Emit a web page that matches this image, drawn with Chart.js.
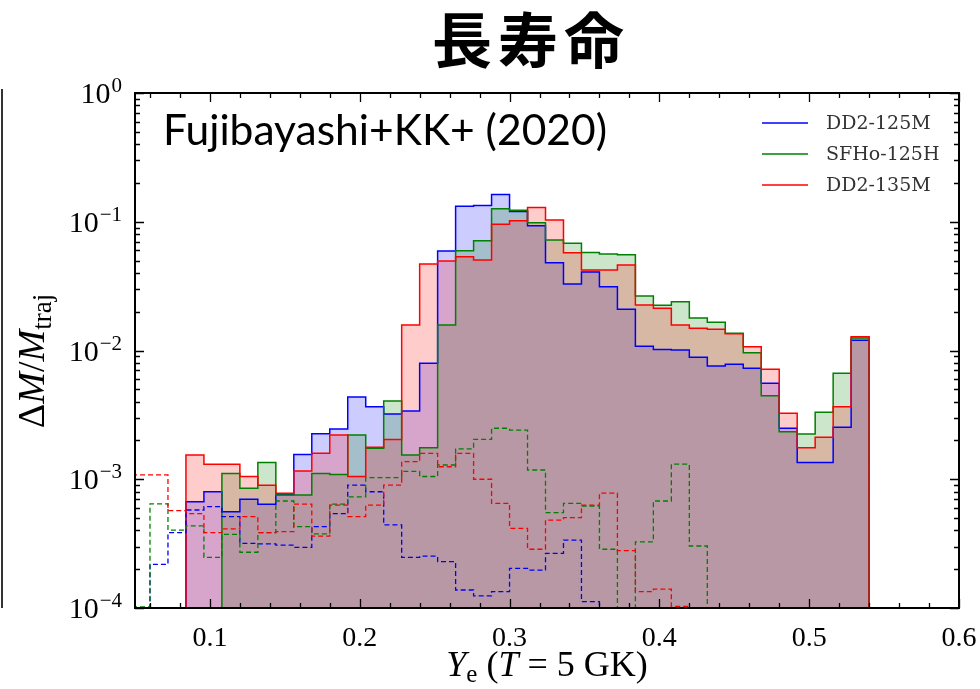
<!DOCTYPE html>
<html>
<head>
<meta charset="utf-8">
<script src="https://cdn.jsdelivr.net/npm/chart.js@4.4.0/dist/chart.umd.min.js"></script>
<style>
  html, body { margin: 0; padding: 0; background: #fff; }
  canvas { display: block; }
</style>
</head>
<body>
<canvas id="c" width="980" height="689"></canvas>
<script>
// Ye histograms at T = 5 GK, bin width 0.012 (bin k covers [k*BIN, (k+1)*BIN])
const BIN = 0.012;
const FLOOR = 1e-6;              // baseline the step outlines fall back to

const seriesNames = ['DD2-125M', 'SFHo-125H', 'DD2-135M'];
const seriesColors = ['#0000ff', '#008000', '#ff0000'];
const seriesFills = ['rgba(0,0,255,0.2)', 'rgba(0,128,0,0.2)', 'rgba(255,0,0,0.2)'];

// total ejecta (solid, filled)
const dd2_125M_start = 7;
const dd2_125M = [6.7e-4, 8.0e-4, 5.6e-4, 7.0e-4, 6.4e-4, 7.6e-4, 1.56e-3, 2.26e-3, 2.46e-3, 4.35e-3,
  3.66e-3, 3.21e-3, 3.39e-3, 7.95e-3, 0.0592, 0.132, 0.134, 0.163, 0.120, 0.0933,
  0.0481, 0.0329, 0.0408, 0.0313, 0.0209, 0.0108, 0.0102, 0.0101, 0.00886, 0.00758,
  0.00781, 0.00727, 0.00556, 0.00249, 0.00135, 0.00135, 0.00253, 0.0120];

const sfho_125H_start = 9;
const sfho_125H = [1.11e-3, 8.5e-4, 1.35e-3, 7.55e-4, 7.55e-4, 1.11e-3, 1.09e-3, 2.21e-3, 1.74e-3, 4.05e-3,
  1.54e-3, 1.76e-3, 0.0158, 0.0596, 0.0713, 0.126, 0.123, 0.0984, 0.0722, 0.068,
  0.0576, 0.0562, 0.0553, 0.0265, 0.0225, 0.0239, 0.0179, 0.0166, 0.0136, 0.0096,
  0.00446, 0.00234, 0.00225, 0.00331, 0.00665, 0.0125];

const dd2_135M_start = 7;
const dd2_135M = [1.54e-3, 1.31e-3, 1.31e-3, 1.05e-3, 9.0e-4, 7.8e-4, 1.16e-3, 1.59e-3, 2.21e-3, 1.05e-3,
  1.77e-3, 2.04e-3, 0.0158, 0.047, 0.0495, 0.0535, 0.0505, 0.0955, 0.102, 0.129,
  0.1034, 0.0575, 0.0422, 0.0422, 0.0461, 0.0226, 0.0213, 0.0158, 0.0149, 0.0146,
  0.0135, 0.0107, 0.00714, 0.00325, 0.00176, 0.00212, 0.00366, 0.0128];

// dashed outlines (no fill)
const dd2_125M_dash_start = 5;
const dd2_125M_dash = [2.18e-4, 3.85e-4, 5.77e-4, 6.13e-4, 5.12e-4, 3.18e-4, 3.15e-4, 3.08e-4, 2.96e-4, 4.28e-4,
  5.4e-4, 9.0e-4, 8.0e-4, 4.42e-4, 2.47e-4, 2.53e-4, 2.29e-4, 1.38e-4, 1.24e-4, 1.34e-4,
  2.03e-4, 1.97e-4, 2.66e-4, 3.37e-4, 1.12e-4];

const sfho_125H_dash_start = 4;
const sfho_125H_dash = [1.02e-4, 6.43e-4, 4.03e-4, 4.35e-4, 2.47e-4, 3.73e-4, 2.71e-4, 3.85e-4, 6.78e-4, 4.28e-4,
  3.76e-4, 6.4e-4, 7.3e-4, 1.03e-3, 1.03e-3, 1.15e-3, 1.05e-3, 1.29e-3, 1.72e-3, 2.04e-3,
  2.49e-3, 2.41e-3, 1.18e-3, 5.5e-4, 6.5e-4, 6.2e-4, 2.86e-4, 5e-5, 3.26e-4, 6.78e-4,
  1.31e-3, 3.03e-4];

const dd2_135M_dash_start = 4;
const dd2_135M_dash = [1.08e-3, 1.08e-3, 5.7e-4, 5.4e-4, 3.85e-4, 4.11e-4, 5.12e-4, 3.85e-4, 3.92e-4, 6.4e-4,
  3.62e-4, 6.3e-4, 5.12e-4, 6.3e-4, 9.0e-4, 1.37e-3, 1.59e-3, 1.25e-3, 1.59e-3, 1.0e-3,
  6.5e-4, 4.16e-4, 2.86e-4, 4.82e-4, 5.03e-4, 6.3e-4, 7.8e-4, 2.79e-4, 1.34e-4, 1.40e-4,
  1.03e-4];

const xTickValues = [0.1, 0.2, 0.3, 0.4, 0.5, 0.6];
const yTickValues = [1e-4, 1e-3, 1e-2, 1e-1, 1];
const yTickExponents = ['\u22124', '\u22123', '\u22122', '\u22121', '0'];

// step outline: rise from the floor at the first edge, hold each bin, fall at the last edge
function histPoints(start, values) {
  const pts = [{ x: start * BIN, y: FLOOR }];
  values.forEach((v, i) => pts.push({ x: (start + i) * BIN, y: v }));
  pts.push({ x: (start + values.length) * BIN, y: FLOOR });
  return pts;
}

function solid(i, start, values, order) {
  return {
    label: seriesNames[i], data: histPoints(start, values),
    borderColor: seriesColors[i], backgroundColor: seriesFills[i],
    borderWidth: 1.5, fill: 'start', stepped: true, order
  };
}
function dashed(i, start, values, order) {
  return {
    label: seriesNames[i] + ' (dashed)', data: histPoints(start, values),
    borderColor: seriesColors[i], backgroundColor: 'transparent',
    borderWidth: 1.3, borderDash: [5, 3], fill: false, stepped: true, order
  };
}

const SERIF = '"Liberation Serif", "DejaVu Serif", serif';

function drawRich(ctx, parts, x, y) {
  let w = 0;
  parts.forEach(p => { ctx.font = p.font; p.w = ctx.measureText(p.text).width; w += p.w; });
  let cx = x - w / 2;
  parts.forEach(p => { ctx.font = p.font; ctx.fillText(p.text, cx, y + (p.dy || 0)); cx += p.w; });
}

const decor = {
  id: 'decor',
  afterDraw(chart) {
    const { ctx, chartArea: a, scales } = chart;
    const xs = scales.x, ys = scales.y;
    ctx.save();
    ctx.fillStyle = '#000';
    ctx.strokeStyle = '#000';

    // inward ticks on all four sides
    ctx.lineWidth = 1.3;
    ctx.beginPath();
    for (let i = 3; i <= 30; i++) {
      const v = i * 0.02;
      const px = Math.round(xs.getPixelForValue(v)) + 0.5;
      const len = (i % 5 === 0) ? 9 : 5;
      ctx.moveTo(px, a.bottom); ctx.lineTo(px, a.bottom - len);
      ctx.moveTo(px, a.top); ctx.lineTo(px, a.top + len);
    }
    for (let e = -4; e <= 0; e++) {
      for (let m = 1; m <= 9; m++) {
        if (e === 0 && m > 1) break;
        const py = Math.round(ys.getPixelForValue(m * Math.pow(10, e))) + 0.5;
        const len = (m === 1) ? 9 : 5;
        ctx.moveTo(a.left, py); ctx.lineTo(a.left + len, py);
        ctx.moveTo(a.right, py); ctx.lineTo(a.right - len, py);
      }
    }
    ctx.stroke();

    // frame
    ctx.lineWidth = 2;
    ctx.strokeRect(a.left, a.top, a.right - a.left, a.bottom - a.top);

    // decade labels on the log axis, 10 with a raised exponent
    ctx.textAlign = 'right';
    ctx.textBaseline = 'alphabetic';
    yTickValues.forEach((v, i) => {
      const py = ys.getPixelForValue(v);
      const right = a.left - 13;
      ctx.font = '21px ' + SERIF;
      const ew = ctx.measureText(yTickExponents[i]).width;
      ctx.fillText(yTickExponents[i], right, py - 1);
      ctx.font = '30px ' + SERIF;
      ctx.fillText('10', right - ew - 1, py + 10);
    });

    // legend
    ctx.textBaseline = 'middle';
    ctx.textAlign = 'left';
    ctx.font = '19px "DejaVu Serif", serif';
    const rows = [123, 154, 185];
    seriesNames.forEach((name, i) => {
      ctx.strokeStyle = seriesColors[i];
      ctx.lineWidth = 1.5;
      ctx.beginPath(); ctx.moveTo(762, rows[i]); ctx.lineTo(808, rows[i]); ctx.stroke();
      ctx.fillStyle = '#333';
      ctx.fillText(name, 826, rows[i] + 1);
    });

    // reference label inside the axes
    ctx.fillStyle = '#000';
    ctx.textBaseline = 'alphabetic';
    ctx.font = '43px Lato, "Open Sans", sans-serif';
    const ref = 'Fujibayashi+KK+ (2020)';
    const sx = 444 / ctx.measureText(ref).width;
    ctx.save();
    ctx.translate(163, 145);
    ctx.scale(sx, 1);
    ctx.fillText(ref, 0, 0);
    ctx.restore();

    // title
    ctx.font = 'bold 60px "Noto Sans CJK JP", sans-serif';
    ctx.textAlign = 'center';
    ctx.textBaseline = 'middle';
    ctx.letterSpacing = '6px';
    ctx.fillText('長寿命', 531, 40);
    ctx.letterSpacing = '0px';

    // axis titles
    ctx.textAlign = 'left';
    ctx.textBaseline = 'alphabetic';
    const big = '36px ' + SERIF, bigIt = 'italic 36px ' + SERIF, sub = '25px ' + SERIF;
    drawRich(ctx, [
      { text: 'Y', font: bigIt }, { text: 'e', font: sub, dy: 6 },
      { text: ' (', font: big }, { text: 'T', font: bigIt }, { text: ' = 5 GK)', font: big }
    ], (a.left + a.right) / 2, 676);

    const bigY = '38px ' + SERIF, bigYIt = 'italic 38px ' + SERIF, subY = '27px ' + SERIF;
    ctx.save();
    ctx.translate(32, 361);
    ctx.rotate(-Math.PI / 2);
    drawRich(ctx, [
      { text: '\u0394', font: bigY }, { text: 'M', font: bigYIt }, { text: '/', font: bigY },
      { text: 'M', font: bigYIt }, { text: 'traj', font: subY, dy: 7 }
    ], 0, 12);
    ctx.restore();

    // edge of the neighbouring panel
    ctx.fillStyle = '#333';
    ctx.fillRect(1, 89, 2, 519);
    ctx.restore();
  }
};

new Chart(document.getElementById('c'), {
  type: 'line',
  data: {
    datasets: [
      solid(2, dd2_135M_start, dd2_135M, 1),
      solid(1, sfho_125H_start, sfho_125H, 2),
      solid(0, dd2_125M_start, dd2_125M, 3),
      dashed(2, dd2_135M_dash_start, dd2_135M_dash, 0),
      dashed(1, sfho_125H_dash_start, sfho_125H_dash, 0),
      dashed(0, dd2_125M_dash_start, dd2_125M_dash, 0)
    ]
  },
  options: {
    responsive: false,
    animation: false,
    events: [],
    layout: { padding: { top: 93, right: 21, left: 0, bottom: 0 } },
    elements: { point: { radius: 0, hoverRadius: 0 }, line: { tension: 0 } },
    plugins: {
      legend: { display: false },
      tooltip: { enabled: false },
      filler: { drawTime: 'beforeDatasetsDraw' }
    },
    scales: {
      x: {
        type: 'linear', min: 0.05, max: 0.6,
        grid: { display: false, drawTicks: false },
        border: { display: false },
        afterBuildTicks: s => { s.ticks = xTickValues.map(v => ({ value: v })); },
        afterFit: s => { s.height = 81; s.paddingLeft = 0; s.paddingRight = 0; },
        ticks: {
          autoSkip: false, maxRotation: 0, padding: 14, color: '#000',
          font: { family: SERIF, size: 28 },
          callback: v => v.toFixed(1)
        }
      },
      y: {
        type: 'logarithmic', min: 1e-4, max: 1,
        grid: { display: false, drawTicks: false },
        border: { display: false },
        afterBuildTicks: s => { s.ticks = yTickValues.map(v => ({ value: v })); },
        afterFit: s => { s.width = 135; s.paddingTop = 0; s.paddingBottom = 0; },
        ticks: { display: false }
      }
    }
  },
  plugins: [decor]
});
</script>
</body>
</html>
